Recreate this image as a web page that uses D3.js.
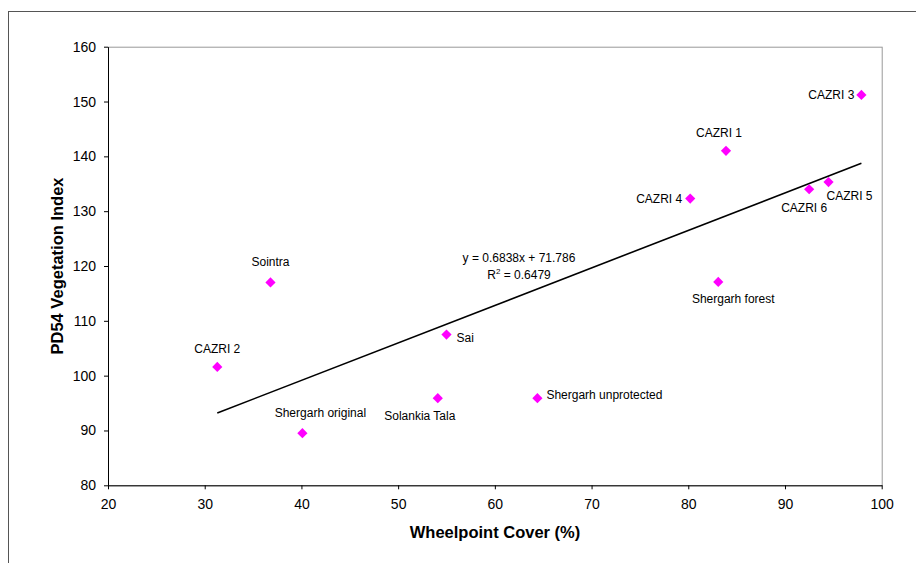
<!DOCTYPE html>
<html>
<head>
<meta charset="utf-8">
<script src="https://cdn.jsdelivr.net/npm/d3@7"></script>
<style>
  body { margin: 0; background: #fff; }
  svg { font-family: "Liberation Sans", Arial, sans-serif; }
  .tick text { font-size: 14px; fill: #000; }
  .axis-title { font-size: 16.5px; font-weight: bold; }
  .pt-label { font-size: 12px; fill: #000; }
</style>
</head>
<body>
<div id="chart"></div>
<script>
// site names and the two measures
var sites = ["CAZRI 3", "CAZRI 1", "CAZRI 4", "CAZRI 6", "CAZRI 5", "Sointra", "CAZRI 2",
    "Sai", "Solankia Tala", "Shergarh original", "Shergarh unprotected", "Shergarh forest"];
var cover = [97.9, 83.9, 80.2, 92.5, 94.5, 36.8, 31.3, 55.0, 54.1, 40.1, 64.4, 83.1];
var vegIndex = [151.2, 141.0, 132.3, 134.0, 135.3, 117.0, 101.6, 107.5, 95.9, 89.5, 95.9, 117.1];

var xTicks = [20, 30, 40, 50, 60, 70, 80, 90, 100];
var yTicks = [80, 90, 100, 110, 120, 130, 140, 150, 160];

// linear trend
var slope = 0.6838, intercept = 71.786, rSquared = "0.6479";

// where each label sits relative to its marker (px), Excel-ish placement
var labelOffsets = {
    "CAZRI 3": [-7, 4, "end"],
    "CAZRI 1": [-7, -14, "middle"],
    "CAZRI 4": [-8, 4, "end"],
    "CAZRI 6": [-5, 23, "middle"],
    "CAZRI 5": [-2, 18, "start"],
    "Sointra": [0, -16, "middle"],
    "CAZRI 2": [0, -14, "middle"],
    "Sai": [10, 7, "start"],
    "Solankia Tala": [-18, 22, "middle"],
    "Shergarh original": [18, -16, "middle"],
    "Shergarh unprotected": [9, 1, "start"],
    "Shergarh forest": [15, 21, "middle"]
};

var canvas_width = 916,
    canvas_height = 563;

var svg = d3.select("div#chart")
    .append("svg")
    .attr("width", canvas_width)
    .attr("height", canvas_height);

var margin = { top: 46.7, right: 34.3, bottom: 77.7, left: 108 };
var width = canvas_width - margin.left - margin.right;
var height = canvas_height - margin.top - margin.bottom;

// outer chart frame (only top and left edges visible in the shot)
svg.append("rect")
    .attr("x", 8.5)
    .attr("y", 11.5)
    .attr("width", 1000)
    .attr("height", 1000)
    .attr("fill", "none")
    .attr("stroke", "#555")
    .attr("stroke-width", 1);

var xScale = d3.scaleLinear().domain([20, 100]).range([0, width]);
var yScale = d3.scaleLinear().domain([80, 160]).range([height, 0]);

var g = svg.append("g")
    .attr("transform", "translate(" + margin.left + "," + margin.top + ")");

// plot area border (top/right grey)
g.append("rect")
    .attr("x", 0.5)
    .attr("y", 0.5)
    .attr("width", width)
    .attr("height", height)
    .attr("fill", "none")
    .attr("stroke", "#999");

// Axes
var xAxis = g.append("g")
    .attr("transform", "translate(0," + height + ")")
    .call(d3.axisBottom(xScale).tickValues(xTicks).tickSize(4).tickSizeOuter(0).tickPadding(10));

var yAxis = g.append("g")
    .call(d3.axisLeft(yScale).tickValues(yTicks).tickSize(4).tickSizeOuter(0).tickPadding(8));

[xAxis, yAxis].forEach(function (ax) {
    ax.attr("font-family", null).attr("font-size", null);
    ax.select(".domain").attr("stroke", "#000");
    ax.selectAll(".tick line").attr("stroke", "#000");
});

// Labels
svg.append("text")
    .attr("class", "axis-title")
    .attr("text-anchor", "middle")
    .attr("x", 495)
    .attr("y", 538)
    .text("Wheelpoint Cover (%)");

svg.append("text")
    .attr("class", "axis-title")
    .attr("text-anchor", "middle")
    .attr("transform", "translate(63,266) rotate(-90)")
    .text("PD54 Vegetation Index");

// trend line from min to max x
var xMin = d3.min(cover), xMax = d3.max(cover);
g.append("line")
    .attr("x1", xScale(xMin))
    .attr("y1", yScale(slope * xMin + intercept))
    .attr("x2", xScale(xMax))
    .attr("y2", yScale(slope * xMax + intercept))
    .attr("stroke", "#000")
    .attr("stroke-width", 1.6);

// equation text
svg.append("text")
    .attr("class", "pt-label")
    .attr("text-anchor", "middle")
    .attr("x", 519)
    .attr("y", 262)
    .text("y = " + slope + "x + " + intercept);

var r2 = svg.append("text")
    .attr("class", "pt-label")
    .attr("text-anchor", "middle")
    .attr("x", 519)
    .attr("y", 279);
r2.append("tspan").text("R");
r2.append("tspan").attr("dy", -5).attr("font-size", "8px").text("2");
r2.append("tspan").attr("dy", 5).text(" = " + rSquared);

// points
var points = sites.map(function (s, i) { return { name: s, x: cover[i], y: vegIndex[i] }; });

var diamond = d3.symbol().type(d3.symbolSquare).size(52);

g.selectAll(".pt")
    .data(points)
    .enter()
    .append("path")
    .attr("class", "pt")
    .attr("d", diamond)
    .attr("transform", d => "translate(" + xScale(d.x) + "," + yScale(d.y) + ") rotate(45)")
    .attr("fill", "#ff00ff");

g.selectAll(".pt-label")
    .data(points)
    .enter()
    .append("text")
    .attr("class", "pt-label")
    .attr("x", d => xScale(d.x) + labelOffsets[d.name][0])
    .attr("y", d => yScale(d.y) + labelOffsets[d.name][1])
    .attr("text-anchor", d => labelOffsets[d.name][2])
    .text(d => d.name);
</script>
</body>
</html>
